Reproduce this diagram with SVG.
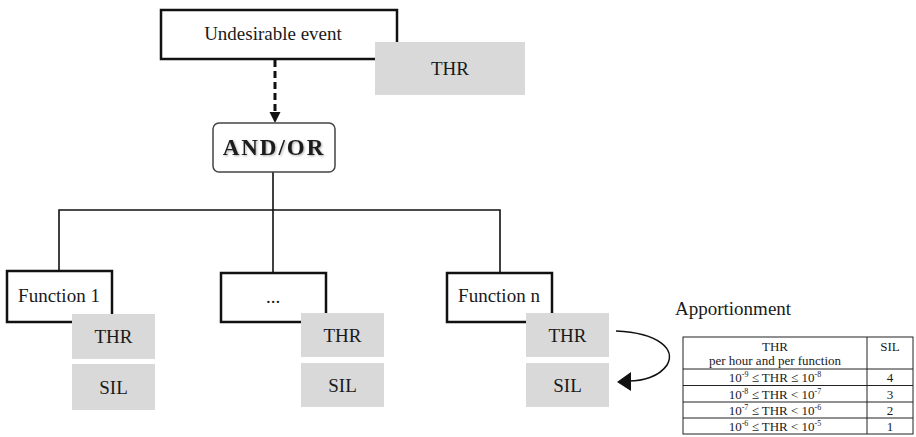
<svg xmlns="http://www.w3.org/2000/svg" width="916" height="437" viewBox="0 0 916 437">
  <style>
    text { font-family: "Liberation Serif", "Times New Roman", serif; fill: #1a1a1a; }
    .box { fill: #ffffff; stroke: #111; stroke-width: 2.5; }
    .grey { fill: #d9d9d9; stroke: none; }
    .lbl { font-size: 19px; text-anchor: middle; }
    .wire { fill: none; stroke: #111; stroke-width: 1.6; }
    .tbl { fill: none; stroke: #222; stroke-width: 1; }
    .tt { font-size: 13px; text-anchor: middle; }
    .sup { font-size: 8px; }
  </style>
  <defs>
    <filter id="soft" x="-10%" y="-10%" width="120%" height="140%">
      <feGaussianBlur in="SourceAlpha" stdDeviation="0.8"/>
      <feOffset dx="1" dy="1" result="b"/>
      <feComponentTransfer><feFuncA type="linear" slope="0.35"/></feComponentTransfer>
      <feMerge><feMergeNode/><feMergeNode in="SourceGraphic"/></feMerge>
    </filter>
  </defs>

  <!-- connectors -->
  <g id="connectors">
    <line x1="275" y1="60" x2="275" y2="113" stroke="#111" stroke-width="3" stroke-dasharray="7,4"/>
    <polygon points="269.5,112 280.5,112 275,123" fill="#111"/>
    <polyline class="wire" points="273,172 273,273"/>
    <polyline class="wire" points="59,271 59,210 500,210 500,273"/>
    <path class="wire" d="M 616 331 C 660 333, 676 350, 667 365 C 659 377, 642 381, 629 381"/>
    <polygon points="617,382 631,372 631,391" fill="#111"/>
  </g>

  <!-- top event -->
  <g id="undesirable-event">
    <rect class="box" x="161" y="10" width="236" height="49"/>
    <text class="lbl" x="273" y="40">Undesirable event</text>
  </g>
  <g id="top-thr">
    <rect class="grey" x="375" y="42" width="150" height="53"/>
    <text class="lbl" x="450" y="75">THR</text>
  </g>

  <!-- gate -->
  <g id="gate">
    <rect x="213" y="123" width="122" height="49" rx="6" ry="6" fill="#fff" stroke="#444" stroke-width="1.5"/>
    <text x="274" y="155" font-size="23" font-weight="bold" text-anchor="middle" letter-spacing="2" filter="url(#soft)">AND/OR</text>
  </g>

  <!-- functions -->
  <g id="function-1">
    <rect class="box" x="7" y="271" width="105" height="51"/>
    <text class="lbl" x="59" y="302">Function 1</text>
  </g>
  <g id="function-mid">
    <rect class="box" x="221" y="273" width="105" height="49"/>
    <text class="lbl" x="273" y="303" font-size="14">...</text>
  </g>
  <g id="function-n">
    <rect class="box" x="447" y="273" width="105" height="49"/>
    <text class="lbl" x="499" y="302">Function n</text>
  </g>

  <!-- THR / SIL blocks -->
  <g id="thr-1"><rect class="grey" x="72" y="314" width="83" height="45"/><text class="lbl" x="113.5" y="343">THR</text></g>
  <g id="sil-1"><rect class="grey" x="72" y="364" width="83" height="46"/><text class="lbl" x="113.5" y="394">SIL</text></g>
  <g id="thr-mid"><rect class="grey" x="301" y="313" width="83" height="44"/><text class="lbl" x="342.5" y="342">THR</text></g>
  <g id="sil-mid"><rect class="grey" x="301" y="363" width="83" height="44"/><text class="lbl" x="342.5" y="392">SIL</text></g>
  <g id="thr-n"><rect class="grey" x="526" y="313" width="83" height="44"/><text class="lbl" x="567.5" y="342">THR</text></g>
  <g id="sil-n"><rect class="grey" x="526" y="363" width="83" height="44"/><text class="lbl" x="567.5" y="392">SIL</text></g>

  <!-- apportionment table -->
  <g id="apportionment">
    <text x="675" y="315" font-size="19">Apportionment</text>
    <rect class="tbl" x="683" y="337" width="230" height="97"/>
    <line class="tbl" x1="867" y1="337" x2="867" y2="434"/>
    <line class="tbl" x1="683" y1="369" x2="913" y2="369"/>
    <line class="tbl" x1="683" y1="385.5" x2="913" y2="385.5"/>
    <line class="tbl" x1="683" y1="402" x2="913" y2="402"/>
    <line class="tbl" x1="683" y1="418" x2="913" y2="418"/>
    <text class="tt" x="775" y="351">THR</text>
    <text class="tt" x="775" y="365">per hour and per function</text>
    <text class="tt" x="890" y="351">SIL</text>
    <text class="tt" x="775" y="382">10<tspan class="sup" dy="-5">-9</tspan><tspan dy="5"> ≤ THR ≤ 10</tspan><tspan class="sup" dy="-5">-8</tspan></text>
    <text class="tt" x="775" y="398.5">10<tspan class="sup" dy="-5">-8</tspan><tspan dy="5"> ≤ THR &lt; 10</tspan><tspan class="sup" dy="-5">-7</tspan></text>
    <text class="tt" x="775" y="415">10<tspan class="sup" dy="-5">-7</tspan><tspan dy="5"> ≤ THR &lt; 10</tspan><tspan class="sup" dy="-5">-6</tspan></text>
    <text class="tt" x="775" y="431">10<tspan class="sup" dy="-5">-6</tspan><tspan dy="5"> ≤ THR &lt; 10</tspan><tspan class="sup" dy="-5">-5</tspan></text>
    <text class="tt" x="890" y="382">4</text>
    <text class="tt" x="890" y="398.5">3</text>
    <text class="tt" x="890" y="415">2</text>
    <text class="tt" x="890" y="431">1</text>
  </g>
</svg>
